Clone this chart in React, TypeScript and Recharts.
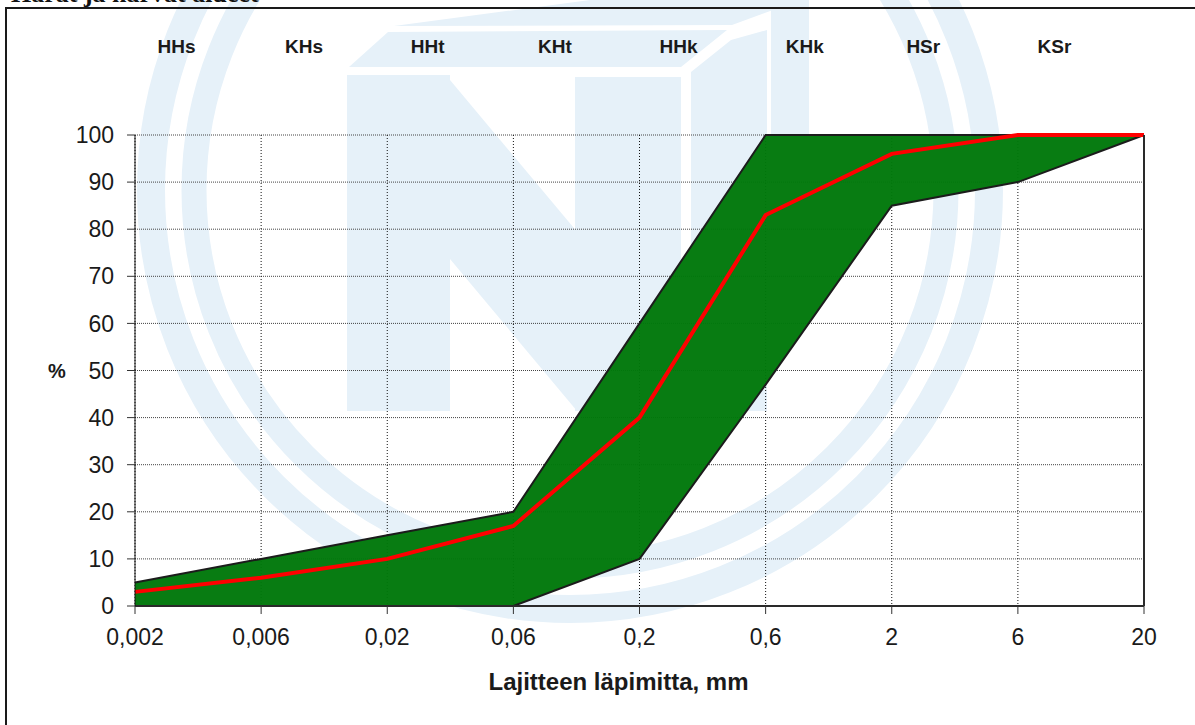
import { ComposedChart, Area, Line, XAxis, YAxis, CartesianGrid, ReferenceLine, Label } from 'recharts'

// grain size axis (evenly spaced categories)
const sizes = ['0,002', '0,006', '0,02', '0,06', '0,2', '0,6', '2', '6', '20']
// envelope of the grading area, % passing
const upper = [5, 10, 15, 20, 60, 100, 100, 100, 100]
const lower = [0, 0, 0, 0, 10, 47, 85, 90, 100]
// typical grading curve
const median = [3, 6, 10, 17, 40, 83, 96, 100, 100]

// soil class names along the top, placed in category-index units
const classNames = ['HHs', 'KHs', 'HHt', 'KHt', 'HHk', 'KHk', 'HSr', 'KSr']
const classPos = [0.33, 1.34, 2.32, 3.33, 4.31, 5.31, 6.25, 7.29]

const yTicks = [0, 10, 20, 30, 40, 50, 60, 70, 80, 90, 100]
const xTicks = sizes.map((_, i) => i)

const data = sizes.map((s, i) => ({
  i,
  size: s,
  low: lower[i],
  high: upper[i],
  mid: median[i],
}))

const FONT = '"Liberation Sans", Arial, sans-serif'
const WM = '#e6f1f9'

// faint logo behind the chart
function Watermark() {
  return (
    <svg width={1195} height={725} style={{ position: 'absolute', left: 0, top: 0 }}>
      <circle cx={570} cy={190} r={419} fill="none" stroke={WM} strokeWidth={28} />
      <circle cx={570} cy={190} r={376} fill="none" stroke={WM} strokeWidth={25} />
      <rect x={347} y={75} width={103} height={336} fill={WM} />
      <polygon points="450,80 681,356 681,411 577,411 450,259" fill={WM} />
      <rect x={575} y={77} width={106} height={334} fill={WM} />
      <polygon points="349,67 388,32 727,30 681,67" fill={WM} />
      <polygon points="394,26 590,0 800,0 732,25" fill={WM} />
      <polygon points="691,72 731,40 767,30 767,411 691,411" fill={WM} />
      <rect x={771} y={0} width={38} height={325} fill={WM} />
    </svg>
  )
}

export default function App() {
  return (
    <div style={{ position: 'fixed', left: 0, top: 0, width: 1195, height: 725, overflow: 'hidden', background: '#fff', fontFamily: FONT }}>
      <Watermark />
      <div style={{ position: 'absolute', left: 0, top: 0 }}>
        <ComposedChart width={1195} height={725} data={data} margin={{ top: 35, right: 51, bottom: 0, left: 0 }}>
          <CartesianGrid vertical={false} stroke="#444" strokeDasharray="1 1" />
          <CartesianGrid horizontal={false} stroke="#111" strokeDasharray="1 2" />
          <XAxis
            dataKey="i"
            type="number"
            domain={[0, 8]}
            ticks={xTicks}
            interval={0}
            tickFormatter={(v) => sizes[v]}
            height={119}
            tickSize={8}
            tickMargin={15}
            axisLine={{ stroke: '#2a2a2a', strokeWidth: 2 }}
            tickLine={{ stroke: '#333' }}
            tick={{ fill: '#1a1a1a', fontSize: 23, fontFamily: FONT }}
          >
            <Label
              value="Lajitteen läpimitta, mm"
              position="insideBottom"
              offset={35}
              dx={-21}
              style={{ fontWeight: 'bold', fontSize: 24, fill: '#1a1a1a', fontFamily: FONT }}
            />
          </XAxis>
          <XAxis
            xAxisId="top"
            orientation="top"
            type="number"
            domain={[0, 8]}
            ticks={classPos}
            interval={0}
            tickFormatter={(v, idx) => classNames[idx]}
            height={100}
            axisLine={false}
            tickLine={false}
            tickMargin={76}
            tick={{ fill: '#1a1a1a', fontSize: 19, fontWeight: 'bold', fontFamily: FONT }}
          />
          <YAxis
            type="number"
            domain={[0, 100]}
            ticks={yTicks}
            interval={0}
            width={135}
            tickSize={8}
            tickMargin={13}
            axisLine={{ stroke: '#111' }}
            tickLine={{ stroke: '#333' }}
            tick={{ fill: '#1a1a1a', fontSize: 23, fontFamily: FONT }}
          >
            <Label
              value="%"
              position="insideLeft"
              offset={48}
              style={{ fontWeight: 'bold', fontSize: 20, fill: '#1a1a1a', fontFamily: FONT }}
            />
          </YAxis>
          <Area
            type="linear"
            dataKey={(d) => [d.low, d.high]}
            stroke="#1c1c1c"
            strokeWidth={2}
            fill="#00780a"
            fillOpacity={0.97}
            dot={false}
            activeDot={false}
            isAnimationActive={false}
          />
          <Line
            type="linear"
            dataKey="mid"
            stroke="#ff0000"
            strokeWidth={4}
            dot={false}
            activeDot={false}
            isAnimationActive={false}
          />
          <ReferenceLine x={8} stroke="#2a2a2a" strokeWidth={2} />
        </ComposedChart>
      </div>
      {/* page frame, open to the right and bottom */}
      <div style={{ position: 'absolute', left: 5, top: 7, width: 1400, height: 900, borderLeft: '2px solid #1a1a1a', borderTop: '2px solid #1a1a1a', pointerEvents: 'none' }} />
      {/* heading of the page, mostly above the visible area */}
      <div
        style={{
          position: 'absolute',
          left: 11,
          top: -19,
          fontFamily: '"Liberation Serif", "Times New Roman", serif',
          fontWeight: 'bold',
          fontSize: 26,
          lineHeight: '26px',
          color: '#111',
          whiteSpace: 'nowrap',
        }}
      >
        Harat ja harvat alueet
      </div>
    </div>
  )
}
